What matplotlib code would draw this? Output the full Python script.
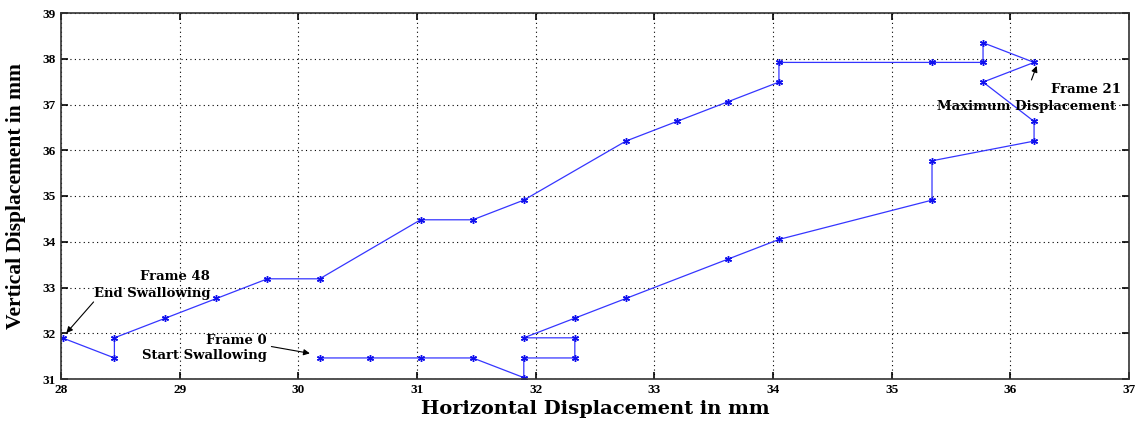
import matplotlib
matplotlib.use('Agg')
import matplotlib.pyplot as plt

# trajectory (mm), frame 0 -> frame 48
horiz = [30.18, 30.60, 31.03, 31.47, 31.90, 31.90, 32.33, 32.33, 31.90, 32.33,
         32.76, 33.62, 34.05, 35.34, 35.34, 36.20, 36.20, 35.77, 36.20, 35.77,
         35.77, 35.34, 34.05, 34.05, 33.62, 33.19, 32.76, 31.90, 31.47, 31.03,
         30.18, 29.74, 29.31, 28.88, 28.45, 28.45, 28.02]
vert = [31.46, 31.46, 31.46, 31.46, 31.03, 31.46, 31.46, 31.90, 31.90, 32.33,
        32.76, 33.62, 34.05, 34.91, 35.77, 36.20, 36.63, 37.49, 37.92, 38.35,
        37.92, 37.92, 37.92, 37.49, 37.06, 36.63, 36.20, 34.91, 34.48, 34.48,
        33.19, 33.19, 32.76, 32.33, 31.90, 31.46, 31.89]
xticks = list(range(28, 38))
yticks = list(range(31, 40))

plt.rcParams['font.family'] = ['Liberation Serif', 'DejaVu Serif']
plt.rcParams['font.weight'] = 'bold'

fig = plt.figure(figsize=(11.47, 4.26), dpi=100, facecolor='white')
ax = fig.add_axes([61/1147, 1-379/426, (1129-61)/1147, (379-13)/426])
ax.plot(horiz, vert, '-', color='#3535ff', linewidth=0.9, marker=(6, 2, 0),
        markersize=5, markeredgewidth=1.0, markeredgecolor='#1010ee',
        markerfacecolor='#1010ee')
ax.set_xlim(28, 37)
ax.set_ylim(31, 39)
ax.set_xticks(xticks)
ax.set_yticks(yticks)
ax.tick_params(direction='in', top=True, right=True, labelsize=9.5, length=5, width=1.2)
for lab in ax.get_xticklabels() + ax.get_yticklabels():
    lab.set_fontweight('bold')
ax.grid(True, linestyle=(0, (1, 3)), color='black', linewidth=0.8)
for s in ax.spines.values():
    s.set_linewidth(1.2)
    s.set_color('#333333')

ax.set_xlabel('Horizontal Displacement in mm', fontsize=14, fontweight='bold',
              family='DejaVu Serif', labelpad=3)
ax.set_ylabel('Vertical Displacement in mm', fontsize=15.5, fontweight='bold', labelpad=12)

kw = dict(fontsize=9.5, fontweight='bold', ha='center', va='center', family='DejaVu Serif')
arrow = dict(arrowstyle='-|>', color='black', lw=0.8, mutation_scale=9)
ax.annotate('', xy=(28.03, 31.96), xytext=(28.29, 32.73), arrowprops=arrow)
ax.text(28.96, 33.23, 'Frame 48', **kw)
ax.text(28.77, 32.86, 'End Swallowing', **kw)
ax.annotate('', xy=(30.12, 31.55), xytext=(29.75, 31.72), arrowprops=arrow)
ax.text(29.48, 31.85, 'Frame 0', **kw)
ax.text(29.21, 31.52, 'Start Swallowing', **kw)
ax.annotate('', xy=(36.23, 37.9), xytext=(36.17, 37.48), arrowprops=arrow)
ax.text(36.64, 37.32, 'Frame 21', **kw)
ax.text(36.14, 36.95, 'Maximum Displacement', **kw)

fig.savefig('out.png', dpi=100)
